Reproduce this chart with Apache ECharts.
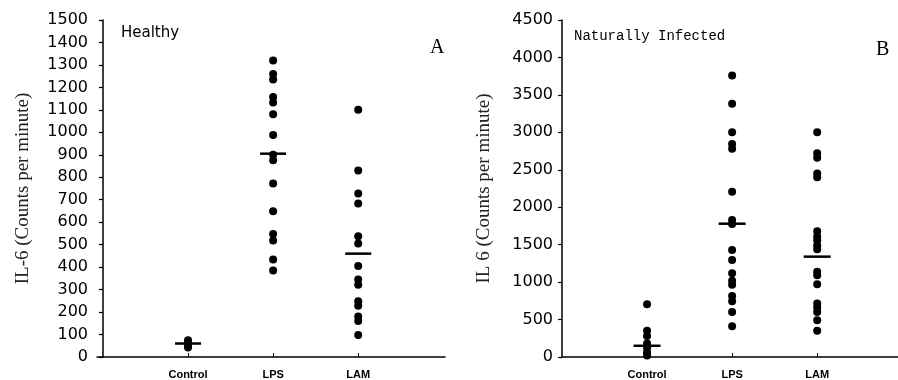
<!DOCTYPE html>
<html>
<head>
<meta charset="utf-8">
<script src="https://cdn.jsdelivr.net/npm/echarts@6/dist/echarts.min.js"></script>
<style>html,body{margin:0;padding:0;background:#fff}#c{width:898px;height:380px}</style>
</head>
<body>
<div id="c"></div>
<script>
const categories = ['Control', 'LPS', 'LAM'];
const healthyControl = [75, 62, 50, 42];
const healthyLPS = [1320, 1260, 1235, 1157, 1133, 1080, 988, 900, 876, 772, 649, 548, 519, 434, 385];
const healthyLAM = [1100, 830, 728, 683, 538, 505, 405, 345, 322, 248, 228, 180, 160, 98];
const healthyMedians = [60, 905, 460];
const infectedControl = [706, 350, 280, 180, 120, 60, 20];
const infectedLPS = [3758, 3382, 3000, 2845, 2780, 2206, 1830, 1775, 1429, 1295, 1118, 1018, 965, 816, 745, 600, 409];
const infectedLAM = [3000, 2720, 2660, 2450, 2400, 1680, 1610, 1560, 1490, 1440, 1140, 1090, 970, 715, 660, 600, 490, 350];
const infectedMedians = [150, 1780, 1340];
const healthyAxis = { min: 0, max: 1500, step: 100 };
const infectedAxis = { min: 0, max: 4500, step: 500 };
const panelTitles = ['Healthy', 'Naturally Infected'];
const panelLetters = ['A', 'B'];
const yNames = ['IL-6 (Counts per minute)', 'IL 6 (Counts per minute)'];

const chart = echarts.init(document.getElementById('c'));
const catPos = categories.map((c, i) => i + 1);

function pts(vals, ci) { return vals.map(v => [catPos[ci], v]); }

function yAxisCfg(ax, grid, name, gap) {
  return {
    type: 'value', gridIndex: grid, min: ax.min, max: ax.max, interval: ax.step,
    name: name, nameLocation: 'middle', nameGap: gap, nameRotate: 90,
    nameTextStyle: { fontFamily: 'Liberation Serif', fontSize: 19, color: '#222' },
    axisLine: { show: true, lineStyle: { color: '#000', width: 1.5 } },
    axisTick: { show: true, length: 4, lineStyle: { color: '#000', width: 1.2 } },
    axisLabel: { fontFamily: 'DejaVu Sans', fontSize: 16, color: '#000', margin: 9, formatter: v => String(v) },
    splitLine: { show: false }
  };
}
function xAxisCfg(grid, min, max) {
  return {
    type: 'value', gridIndex: grid, min: min, max: max,
    axisLine: { show: true, onZero: false, lineStyle: { color: '#000', width: 1.5 } },
    axisTick: { show: true, inside: true, length: 4, customValues: catPos, lineStyle: { color: '#000', width: 1 } },
    axisLabel: { show: true, customValues: catPos, formatter: v => categories[Math.round(v) - 1] || '',
      fontFamily: 'Liberation Sans', fontWeight: 'bold', fontSize: 11, color: '#000', margin: 12 },
    splitLine: { show: false }
  };
}
function dots(vals, ci, xi, yi) {
  return { type: 'scatter', xAxisIndex: xi, yAxisIndex: yi, data: pts(vals, ci), symbol: 'circle', symbolSize: 8,
    itemStyle: { color: '#000', opacity: 1 }, silent: true, z: 3 };
}
function medians(vals, xi, yi, w) {
  return { type: 'scatter', xAxisIndex: xi, yAxisIndex: yi, data: vals.map((v, i) => [catPos[i], v]),
    symbol: 'rect', symbolSize: [w, 2.5], itemStyle: { color: '#000', opacity: 1 }, silent: true, z: 4 };
}

chart.setOption({
  animation: false,
  backgroundColor: '#fff',
  grid: [
    { left: 97, top: 20, width: 348, height: 338 },
    { left: 562, top: 20, right: 0, height: 338 }
  ],
  title: [
    { text: panelTitles[0], left: 116, top: 21, textStyle: { fontFamily: 'DejaVu Sans', fontSize: 15, fontWeight: 'normal', color: '#000' } },
    { text: panelLetters[0], left: 425, top: 33, textStyle: { fontFamily: 'Liberation Serif', fontSize: 20, fontWeight: 'normal', color: '#000' } },
    { text: panelTitles[1], left: 569, top: 24, textStyle: { fontFamily: 'Liberation Mono', fontSize: 14, fontWeight: 'normal', color: '#000' } },
    { text: panelLetters[1], left: 871, top: 35, textStyle: { fontFamily: 'Liberation Serif', fontSize: 20, fontWeight: 'normal', color: '#000' } }
  ],
  xAxis: [ xAxisCfg(0, -0.07, 4.02), xAxisCfg(1, 0, 3.95) ],
  yAxis: [ yAxisCfg(healthyAxis, 0, yNames[0], 64), yAxisCfg(infectedAxis, 1, yNames[1], 68) ],
  series: [
    dots(healthyControl, 0, 0, 0), dots(healthyLPS, 1, 0, 0), dots(healthyLAM, 2, 0, 0),
    medians(healthyMedians, 0, 0, 26),
    dots(infectedControl, 0, 1, 1), dots(infectedLPS, 1, 1, 1), dots(infectedLAM, 2, 1, 1),
    medians(infectedMedians, 1, 1, 27)
  ]
});
</script>
</body>
</html>
